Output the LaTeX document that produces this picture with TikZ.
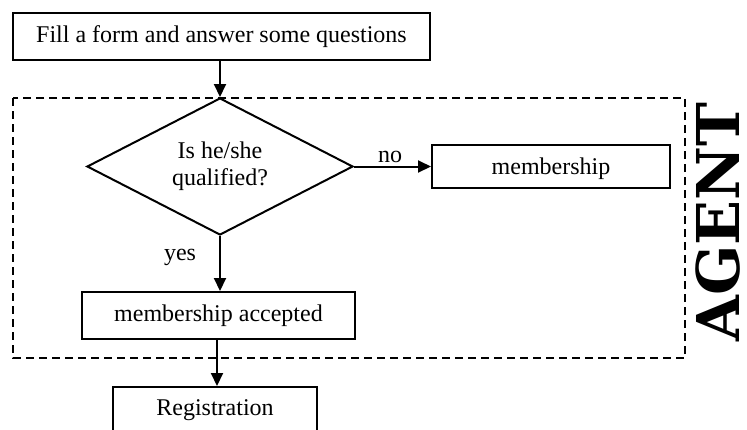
\documentclass[tikz,border=0pt]{standalone}
\usepackage{fontspec}
\setmainfont{Liberation Serif}
\newfontfamily\agentfont{DejaVu Serif}
\usetikzlibrary{shapes.geometric,arrows.meta}
\begin{document}
\begin{tikzpicture}[x=1pt,y=-1pt]
\tikzstyle{mythick}=[line width=2pt];
\tikzstyle{bx}=[draw=black,rectangle,mythick,inner sep=0pt,font=\fontsize{24}{27}\selectfont]
\tikzstyle{dm}=[draw=black,diamond,mythick,inner sep=0pt,aspect=2,minimum width=266pt,minimum height=137pt,align=center,font=\fontsize{24}{27}\selectfont]
\tikzstyle{ed}=[draw=black,mythick,-{Triangle[length=13pt,width=12pt]}]
\tikzstyle{lb}=[font=\fontsize{24}{27}\selectfont,inner sep=0pt]
\clip (0,0) rectangle (747,429);
\node [bx,minimum width=417pt,minimum height=47pt] (fill) at (221.5,36.5) {Fill a form and answer some questions};
\node [dm] (dia) at (220,166.5) {Is he/she\\qualified?};
\node [bx,minimum width=238pt,minimum height=43pt,text depth=0pt] (rej) at (551,166.5) {membership};
\node [bx,minimum width=273pt,minimum height=47pt] (acc) at (218.5,315.5) {membership accepted};
\node [bx,minimum width=204pt,minimum height=47pt] (reg) at (215,410.5) {Registration};
\node [lb] (no) at (390,157) {no};
\node [lb] (yes) at (180,257) {yes};
\node [font=\agentfont\bfseries\fontsize{59}{59}\selectfont,rotate=90,inner sep=0pt,text depth=0pt] (agent) at (718,222) {AGENT};
% dashed agent area
\draw [mythick,dash pattern=on 8pt off 5pt] (13,98) rectangle (685,358);
\draw [ed] (dia.north |- fill.south) -- (dia.north);
\draw [ed] (dia.east) -- (rej.west);
\draw [ed] (dia.south) -- (dia.south |- acc.north);
\draw [ed] (acc.south -| dia.south) ++(-3,0) -- (reg.north -| 217,0);
\end{tikzpicture}
\end{document}
